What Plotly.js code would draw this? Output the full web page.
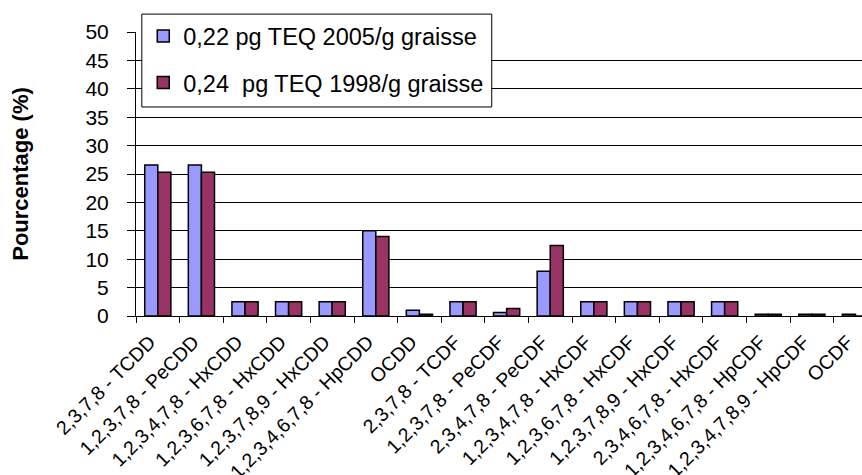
<!DOCTYPE html>
<html>
<head>
<meta charset="utf-8">
<script src="https://cdn.plot.ly/plotly-3.0.1.min.js"></script>
<style>html,body{margin:0;padding:0;background:#fff;}#chart{width:862px;height:475px;}</style>
</head>
<body>
<div id="chart"></div>
<script>
const categories = [
  "2,3,7,8 - TCDD", "1,2,3,7,8 - PeCDD", "1,2,3,4,7,8 - HxCDD", "1,2,3,6,7,8 - HxCDD",
  "1,2,3,7,8,9 - HxCDD", "1,2,3,4,6,7,8 - HpCDD", "OCDD", "2,3,7,8 - TCDF",
  "1,2,3,7,8 - PeCDF", "2,3,4,7,8 - PeCDF", "1,2,3,4,7,8 - HxCDF", "1,2,3,6,7,8 - HxCDF",
  "1,2,3,7,8,9 - HxCDF", "2,3,4,6,7,8 - HxCDF", "1,2,3,4,6,7,8 - HpCDF", "1,2,3,4,7,8,9 - HpCDF", "OCDF"
];
const series2005Name = "0,22 pg TEQ 2005/g graisse";
const series1998Name = "0,24  pg TEQ 1998/g graisse";
const series2005 = [26.6, 26.6, 2.5, 2.5, 2.5, 15.0, 1.0, 2.5, 0.6, 7.9, 2.5, 2.5, 2.5, 2.5, 0.3, 0.3, 0.3];
const series1998 = [25.3, 25.3, 2.5, 2.5, 2.5, 14.0, 0.3, 2.5, 1.3, 12.4, 2.5, 2.5, 2.5, 2.5, 0.3, 0.3, 0];
const yTicks = [0, 5, 10, 15, 20, 25, 30, 35, 40, 45, 50];

const font = "Liberation Sans, Arial, sans-serif";
const data = [
  {type: "bar", x: categories, y: series2005, name: series2005Name, legendgroup: "a",
   marker: {color: "#9999FF", line: {color: "#000", width: 1.5}}},
  {type: "bar", x: categories, y: series1998, name: series1998Name, legendgroup: "b",
   marker: {color: "#993366", line: {color: "#000", width: 1.5}}}
];
const layout = {
  width: 862, height: 475,
  margin: {l: 136, r: 0, t: 32, b: 159},
  paper_bgcolor: "#fff", plot_bgcolor: "#fff",
  font: {family: font, color: "#000"},
  barmode: "group", bargap: 0.4, bargroupgap: 0,
  showlegend: true,
  legend: {x: 0.01, y: 1.063, xanchor: "left", yanchor: "top",
    bgcolor: "rgba(0,0,0,0)", borderwidth: 0,
    font: {size: 23.5, family: font}, tracegroupgap: 13, traceorder: "grouped"},
  shapes: [{type: "rect", xref: "paper", yref: "paper", layer: "above",
    x0: 0.008, x1: 0.49, y0: 0.736, y1: 1.063,
    fillcolor: "#fff", line: {color: "#000", width: 1}}],
  xaxis: {type: "category", range: [-0.5, 16.15], tickangle: -45,
    tickfont: {size: 19.5, family: font}, ticks: "outside", tickson: "boundaries",
    ticklen: 6, tickcolor: "#000", showline: true, linecolor: "#000", linewidth: 1,
    ticklabelstandoff: 6, ticklabelshift: -8, showgrid: false, fixedrange: true},
  yaxis: {range: [0, 50], tickvals: yTicks, ticktext: yTicks.map(String),
    tickfont: {size: 21, family: font}, ticks: "outside", ticklen: 8, tickcolor: "#000",
    ticklabelstandoff: 14,
    showline: true, linecolor: "#000", linewidth: 1, showgrid: true, gridcolor: "#000", gridwidth: 1,
    zeroline: false,
    title: {text: "<b>Pourcentage (%)</b>", font: {size: 22, family: font}, standoff: 50}}
};
Plotly.newPlot("chart", data, layout, {displayModeBar: false, staticPlot: true});
</script>
</body>
</html>
